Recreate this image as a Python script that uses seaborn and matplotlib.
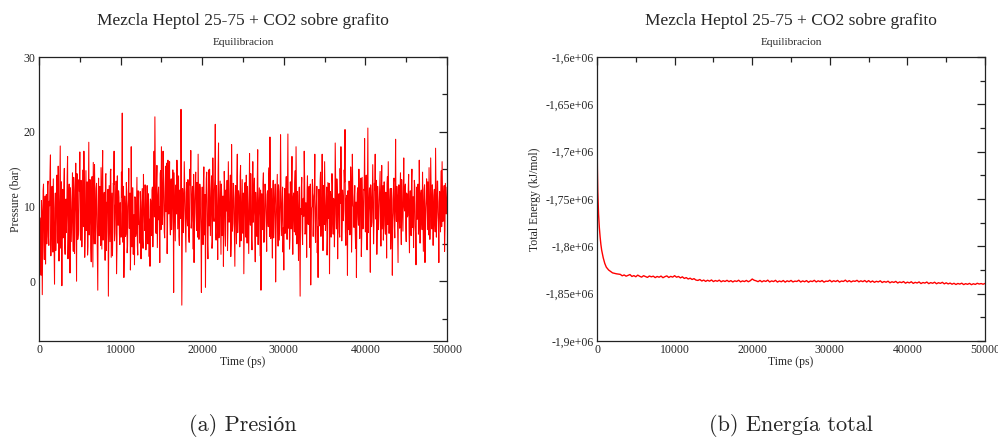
"""Equilibration plots (pressure and total energy) for the Heptol 25-75 + CO2 on graphite run."""

import matplotlib

matplotlib.use("Agg")
import matplotlib.pyplot as plt
import numpy as np
import seaborn as sns
from matplotlib.ticker import FuncFormatter, MultipleLocator

TITLE = "Mezcla Heptol 25-75 + CO2 sobre grafito"
SUBTITLE = "Equilibracion"
CAPTIONS = ["(a) Presión", "(b) Energía total"]

# pressure, frames at t = 0, 100, ..., 50000 ps
PRESSURE_DT_PS = 100
PRESSURE_BAR = [
    -2.7, 8.5, 3.1, 10.8, -1.8, 12.1, 5.4, 9.7, 2.3, 11.6,
    7.2, 13.4, 4.8, 10.1, 16.9, 6.3, 12.7, 3.9, 9.2, -0.4,
    11.8, 6.9, 14.2, 5.1, 10.4, 8.0, 18.1, 4.4, -0.6, 12.3,
    7.7, 15.1, 3.6, 11.0, 8.8, 16.7, 5.9, 13.0, 1.1, 10.6,
    7.4, 14.5, 4.0, 12.2, 9.1, 15.8, 0.0, 11.3, 6.2, 13.6,
    17.3, 5.5, 12.0, 8.3, 14.9, 17.4, 3.2, 10.9, 6.8, 13.3,
    4.7, 18.6, 7.9, 11.5, 2.6, 14.0, 1.9, 9.9, 15.6, 5.0,
    12.4, 8.6, -1.2, 13.8, 6.1, 10.2, 15.2, 4.3, 17.5, 7.0,
    11.9, 2.8, 14.4, 6.6, 9.4, -2.0, 12.8, 5.3, 15.0, 8.1,
    3.4, 13.1, 17.4, 6.4, 10.7, 1.0, 14.1, 7.5, 11.2, 4.9,
    9.0, 14.6, 22.5, 5.2, 0.5, 11.4, 6.0, 13.2, 3.8, 10.0,
    15.1, 7.1, 1.5, 18.0, 4.6, 12.5, 8.4, 2.2, 11.1, 6.5,
    13.9, 3.5, 9.6, 7.8, 12.0, 3.0, 10.3, 5.7, 14.3, 8.9,
    12.9, 4.2, 9.3, 6.7, 11.7, 3.3, 2.0, 10.8, 7.3, 12.6,
    9.5, 17.4, 22.0, 6.9, 13.5, 4.5, 11.6, 8.2, 2.5, 14.8,
    18.0, 7.6, 17.4, 10.5, 5.8, 15.4, 12.1, 3.7, 16.2, 9.0,
    16.0, 6.2, 13.7, 8.7, 14.9, -1.5, 11.2, 5.4, 12.9, 16.2,
    7.0, 14.1, 4.8, 10.6, 23.0, -3.2, 12.4, 6.5, 16.0, 9.8,
    3.9, 13.2, 7.4, 11.8, 5.2, 15.0, 17.5, 8.1, 12.7, 4.3,
    2.5, 10.9, 14.6, 6.8, 11.4, 17.0, 5.6, 13.0, 8.5, -1.5,
    12.6, 4.9, 15.3, 7.2, -0.8, 13.7, 9.3, 3.0, 14.9, 15.0,
    6.1, 11.8, 4.4, 16.5, 8.6, 12.3, 21.0, 5.5, 10.1, 2.9,
    18.5, 7.7, 13.4, 3.6, 11.0, 8.0, 2.0, 14.7, 6.3, 12.2,
    9.4, 4.1, 16.0, 7.9, 10.7, 3.3, 18.3, 6.7, 13.1, 9.9,
    2.0, 12.8, 5.0, 17.0, 8.3, 11.5, 4.6, 15.5, 7.1, 13.6,
    6.4, 1.0, 12.9, 8.8, 14.2, 5.1, 10.4, 3.7, 17.1, 7.5,
    11.3, 4.2, 16.0, 9.1, 13.8, 2.6, 10.0, 6.0, 17.6, 8.7,
    12.5, 3.4, -1.2, 11.7, 6.9, 14.5, 5.3, 13.0, 9.6, 4.0,
    12.1, 7.3, 15.2, 19.3, 5.7, 10.9, 3.1, 13.5, 8.0, 11.6,
    -0.1, 9.2, 14.3, 4.7, 12.0, 7.8, 19.6, 6.1, 10.6, 3.9,
    1.5, 12.4, 8.5, 14.0, 5.6, 19.7, 9.7, 4.3, 13.3, 7.0,
    16.7, 3.6, 11.8, 6.6, 14.8, 18.0, 5.0, 10.2, 2.8, 12.6,
    -2.0, 8.9, 13.9, 4.9, 11.1, 17.4, 6.3, 10.5, 3.2, 14.1,
    7.6, 12.7, 4.5, -0.5, 9.8, 13.6, 6.0, 11.4, 17.0, 5.2,
    10.7, 3.8, 0.5, 12.3, 7.4, 14.6, 8.2, 17.0, 4.1, 11.9,
    16.0, 6.8, 10.3, 3.5, 13.2, 8.4, 1.0, 12.0, 5.9, 14.4,
    7.7, 11.1, 4.6, 18.5, 9.0, 13.7, 3.0, 10.8, 6.5, 15.1,
    18.0, 5.4, 12.2, 8.1, 14.9, 20.3, 4.8, 11.5, 0.8, 9.5,
    13.4, 6.2, 15.3, 3.9, 17.0, 10.1, 7.2, 12.8, 4.4, 0.5,
    11.7, 8.6, 15.0, 5.7, 10.4, 3.3, 13.9, 7.0, 12.3, 19.1,
    6.6, 14.2, 4.2, 20.5, 9.2, 12.5, 1.2, 11.0, 7.9, 15.6,
    5.0, 13.1, 17.0, 8.3, 3.6, 12.7, 6.9, 10.6, 14.7, 4.7,
    15.5, 9.8, 5.5, 13.3, 7.5, 11.9, 3.1, 14.0, 16.0, 6.4,
    10.9, 4.3, 12.4, 0.8, 9.1, 13.8, 5.8, 19.0, 8.0, 11.3,
    2.5, 12.9, 7.1, 14.5, 4.9, 10.5, 6.7, 16.5, 9.4, 13.0,
    5.3, 11.6, 8.8, 14.3, 3.8, 12.1, 6.1, 15.0, 9.7, 4.5,
    13.5, 7.4, 2.2, 12.6, 10.0, 6.3, 16.2, 5.1, 11.8, 8.2,
    14.6, 4.0, 12.3, 2.5, 9.9, 13.7, 6.9, 10.8, 15.2, 5.6,
    16.5, 8.5, 12.9, 4.8, 11.2, 7.7, 17.8, 5.9, 13.4, 9.3,
    2.5, 12.0, 6.6, 14.8, 16.0, 8.0, 11.5, 4.0, 13.1, 9.0,
    12.6,
]
# in-between frames at t = 50, 150, ..., 49950 ps
PRESSURE_BAR_MID = [
    1.2, 6.8, 0.8, 9.4, 4.5, 13.0, 2.9, 11.4, 8.1, 5.0,
    12.8, 6.0, 10.7, 14.6, 3.4, 11.1, 7.5, 13.7, 5.2, 9.8,
    4.1, 12.6, 8.4, 15.4, 2.7, 11.9, 7.0, 13.3, 9.6, 5.8,
    12.9, 4.9, 10.2, 6.5, 14.1, 3.0, 11.6, 8.0, 12.5, 5.3,
    10.0, 6.7, 13.9, 3.7, 11.2, 7.8, 14.4, 5.6, 9.5, 12.0,
    6.9, 13.5, 4.6, 10.8, 7.3, 12.2, 5.7, 14.8, 9.0, 3.5,
    11.0, 6.2, 13.6, 4.4, 10.3, 8.2, 15.9, 5.0, 11.7, 7.6,
    13.1, 3.9, 9.7, 6.1, 12.7, 4.8, 10.1, 13.9, 5.5, 11.4,
    7.9, 14.2, 4.1, 10.6, 12.3, 6.0, 9.1, 14.7, 3.2, 11.8,
    7.2, 12.9, 5.4, 10.0, 13.4, 4.2, 8.7, 12.1, 6.3, 10.5,
    5.9, 11.2, 7.4, 12.7, 3.9, 9.8, 6.3, 12.0, 4.7, 10.9,
    7.1, 11.8, 5.5, 9.4, 12.5, 3.6, 8.9, 11.3, 6.0, 10.2,
    4.8, 12.1, 7.6, 5.1, 10.6, 8.0, 12.4, 4.4, 9.1, 6.8,
    11.5, 7.2, 12.8, 5.0, 9.9, 8.3, 11.0, 6.1, 12.2, 4.6,
    11.4, 8.6, 13.7, 6.4, 15.5, 7.9, 12.6, 10.0, 14.4, 6.9,
    12.4, 8.9, 14.7, 6.6, 12.0, 9.3, 15.8, 7.5, 11.6, 13.8,
    8.2, 12.9, 6.9, 11.3, 9.6, 14.5, 7.8, 12.6, 9.0, 13.4,
    10.7, 6.0, 12.2, 8.4, 14.0, 5.6, 11.0, 9.7, 13.1, 7.3,
    11.9, 8.6, 13.6, 6.2, 10.4, 12.8, 7.1, 11.5, 9.2, 14.3,
    7.7, 12.3, 9.1, 13.2, 5.9, 11.1, 8.8, 12.5, 6.4, 10.3,
    8.0, 13.3, 6.2, 11.6, 9.7, 14.6, 4.8, 10.9, 7.4, 12.4,
    9.1, 14.1, 5.3, 11.9, 8.0, 13.7, 6.6, 12.8, 9.4, 15.0,
    5.8, 10.5, 7.9, 13.0, 6.1, 11.4, 9.0, 12.6, 4.7, 10.2,
    13.5, 6.9, 11.7, 8.5, 14.2, 5.1, 10.8, 7.7, 12.9, 6.0,
    11.1, 8.9, 13.8, 6.5, 12.1, 9.6, 14.0, 5.4, 10.6, 8.2,
    11.8, 7.0, 13.2, 5.9, 10.3, 12.7, 6.8, 11.1, 9.2, 14.4,
    5.6, 10.7, 7.9, 12.5, 6.3, 11.9, 8.8, 13.6, 4.9, 10.4,
    7.6, 12.2, 6.6, 10.0, 13.1, 5.2, 9.6, 12.0, 7.1, 11.6,
    8.4, 13.8, 6.0, 10.9, 12.4, 7.5, 11.3, 5.8, 9.9, 13.0,
    6.7, 11.5, 8.1, 12.9, 5.5, 10.2, 13.3, 8.6, 12.6, 7.2,
    10.1, 6.4, 12.3, 9.0, 13.5, 7.1, 11.7, 5.7, 10.8, 12.9,
    7.8, 11.2, 8.5, 13.2, 6.2, 10.6, 12.0, 7.4, 11.4, 5.3,
    9.7, 12.5, 7.0, 11.0, 8.7, 13.9, 6.5, 10.3, 12.2, 7.9,
    11.6, 6.8, 13.0, 5.9, 10.0, 12.4, 8.2, 11.8, 6.1, 9.5,
    12.7, 7.3, 10.9, 8.9, 13.4, 6.0, 11.3, 9.8, 12.8, 7.6,
    11.0, 8.3, 12.6, 5.8, 10.5, 13.1, 7.4, 11.5, 9.3, 12.9,
    6.3, 10.8, 8.1, 13.6, 7.0, 12.0, 9.1, 11.7, 5.9, 10.4,
    12.7, 7.7, 11.2, 9.5, 13.3, 6.6, 10.9, 8.4, 12.1, 6.9,
    11.6, 8.8, 13.0, 7.2, 12.4, 9.9, 11.3, 6.7, 10.6, 8.0,
    12.5, 7.5, 11.9, 9.2, 13.8, 6.1, 10.7, 8.9, 12.2, 10.0,
    12.0, 8.1, 13.4, 6.5, 11.1, 9.4, 12.9, 7.3, 11.6, 10.2,
    7.8, 12.2, 9.6, 13.5, 6.7, 10.8, 8.5, 12.6, 9.0, 11.4,
    7.0, 12.8, 8.2, 11.9, 6.3, 10.5, 13.0, 7.6, 11.2, 9.3,
    12.4, 6.9, 11.0, 8.0, 13.2, 7.4, 10.9, 9.8, 12.7, 6.6,
    11.5, 8.4, 12.1, 7.9, 13.6, 8.8, 11.3, 10.1, 12.5, 7.1,
    11.8, 8.6, 12.4, 6.8, 10.7, 9.5, 13.1, 7.2, 11.3, 8.9,
    12.6, 6.4, 10.2, 8.3, 13.0, 7.7, 11.6, 9.4, 12.2, 6.9,
    10.8, 8.7, 12.9, 7.4, 11.1, 9.9, 13.3, 6.2, 10.4, 8.1,
    12.7, 7.0, 11.5, 9.1, 12.3, 6.6, 11.0, 8.5, 13.4, 7.9,
    10.6, 9.6, 12.1, 7.3, 11.7, 8.8, 12.8, 6.9, 10.9, 9.7,
]

# total energy in units of 1e6 kJ/mol; dense sampling over the initial relaxation
ENERGY_TIME_EARLY = [0, 25, 50, 100, 150, 200, 300, 400, 500, 600, 800, 1000, 1200, 1500, 2000, 2500]
ENERGY_EARLY = [-1.6726, -1.700, -1.718, -1.742, -1.756, -1.766, -1.780, -1.790, -1.798, -1.804,
                -1.812, -1.818, -1.822, -1.825, -1.828, -1.829]
ENERGY_DT_PS = 250  # from 3000 ps on
ENERGY_LATE = [
    -1.8296, -1.8311, -1.8302, -1.8315, -1.8306, -1.8298, -1.8318, -1.8309, -1.8321, -1.8304,
    -1.8316, -1.8325, -1.8310, -1.8319, -1.8328, -1.8313, -1.8322, -1.8315, -1.8330, -1.8318,
    -1.8326, -1.8314, -1.8331, -1.8320, -1.8312, -1.8329, -1.8317, -1.8325,
    -1.8310, -1.8326, -1.8318, -1.8333, -1.8322, -1.8339, -1.8330, -1.8345, -1.8336, -1.8350,
    -1.8341, -1.8356,
    -1.8360, -1.8350, -1.8366, -1.8356, -1.8370, -1.8358, -1.8368, -1.8355, -1.8372, -1.8361,
    -1.8369, -1.8357, -1.8374, -1.8363, -1.8371, -1.8359, -1.8373, -1.8362, -1.8376, -1.8364,
    -1.8371, -1.8358, -1.8375, -1.8365, -1.8372, -1.8360, -1.8374, -1.8363,
    -1.8345, -1.8358, -1.8364, -1.8373, -1.8360, -1.8375, -1.8363, -1.8371, -1.8357, -1.8376,
    -1.8365, -1.8372, -1.8359, -1.8377, -1.8366, -1.8374, -1.8361, -1.8378, -1.8364, -1.8373,
    -1.8360, -1.8376, -1.8367, -1.8371, -1.8358, -1.8377, -1.8365, -1.8374, -1.8362, -1.8379,
    -1.8366, -1.8372, -1.8359, -1.8376, -1.8364, -1.8373, -1.8361, -1.8378, -1.8367, -1.8370,
    -1.8358, -1.8375, -1.8363, -1.8372, -1.8360, -1.8377, -1.8366, -1.8371, -1.8357, -1.8374,
    -1.8362, -1.8376, -1.8365, -1.8370, -1.8359, -1.8375, -1.8364, -1.8373, -1.8361, -1.8377,
    -1.8362, -1.8378, -1.8366, -1.8380, -1.8369, -1.8376, -1.8364, -1.8382, -1.8371, -1.8379,
    -1.8368, -1.8385, -1.8374, -1.8381, -1.8370, -1.8387, -1.8376, -1.8383, -1.8372, -1.8389,
    -1.8378, -1.8386, -1.8374, -1.8391, -1.8380, -1.8387, -1.8376, -1.8393, -1.8382, -1.8388,
    -1.8377, -1.8394, -1.8383, -1.8390, -1.8379, -1.8395, -1.8384, -1.8391, -1.8380, -1.8396,
    -1.8385, -1.8397, -1.8388, -1.8400, -1.8390, -1.8403, -1.8392, -1.8399, -1.8389, -1.8404,
    -1.8394, -1.8401, -1.8391, -1.8405, -1.8395, -1.8402, -1.8390, -1.8398, -1.8393, -1.8400,
    -1.8392,
]

RED = "#ff0000"
AXIS_DARK = "#222222"
SERIF = ["Liberation Serif", "DejaVu Serif"]
CAPTION_FONT = ["cmr10", "Liberation Serif", "DejaVu Serif"]


def _grace_axes(ax, xmajor, ymajor):
    for s in ax.spines.values():
        s.set_visible(True)
        s.set_color(AXIS_DARK)
        s.set_linewidth(0.9)
    ax.xaxis.set_major_locator(MultipleLocator(xmajor))
    ax.xaxis.set_minor_locator(MultipleLocator(xmajor / 2))
    ax.yaxis.set_major_locator(MultipleLocator(ymajor))
    ax.yaxis.set_minor_locator(MultipleLocator(ymajor / 2))
    ax.tick_params(which="both", direction="in", top=True, right=True, color=AXIS_DARK, width=0.9)
    ax.tick_params(which="major", length=6, labelsize=8.5, pad=2.5)
    ax.tick_params(which="minor", length=3.5)
    ax.grid(False)


sns.set_style("white")
plt.rcParams["font.family"] = SERIF

fig = plt.figure(figsize=(9.98, 4.47), dpi=100)
ax_p = fig.add_axes([0.0391, 0.2371, 0.4088, 0.6353])
ax_e = fig.add_axes([0.5982, 0.2371, 0.3888, 0.6353])

# merge the two frame sets into one time-ordered trace
p_time = np.concatenate([np.arange(len(PRESSURE_BAR)) * PRESSURE_DT_PS,
                         np.arange(len(PRESSURE_BAR_MID)) * PRESSURE_DT_PS + PRESSURE_DT_PS // 2])
p_vals = np.concatenate([PRESSURE_BAR, PRESSURE_BAR_MID])
order = np.argsort(p_time)
sns.lineplot(x=p_time[order], y=p_vals[order], ax=ax_p, color=RED, lw=0.75, sort=False)
ax_p.set_xlim(0, 50000)
ax_p.set_ylim(-8, 30)
_grace_axes(ax_p, 10000, 10)
ax_p.set_xlabel("Time (ps)", fontsize=8.5, labelpad=0)
ax_p.set_ylabel("Pressure (bar)", fontsize=8.5, labelpad=2)

e_time = ENERGY_TIME_EARLY + [3000 + i * ENERGY_DT_PS for i in range(len(ENERGY_LATE))]
e_vals = np.array(ENERGY_EARLY + ENERGY_LATE) * 1e6
sns.lineplot(x=e_time, y=e_vals, ax=ax_e, color=RED, lw=1.0)
ax_e.set_xlim(0, 50000)
ax_e.set_ylim(-1.9e6, -1.6e6)
_grace_axes(ax_e, 10000, 0.05e6)
ax_e.yaxis.set_major_formatter(FuncFormatter(lambda v, _: f"{v:g}".replace(".", ",")))
ax_e.set_xlabel("Time (ps)", fontsize=8.5, labelpad=0)
ax_e.set_ylabel("Total Energy (kJ/mol)", fontsize=8.5, labelpad=3)

for ax, caption in zip((ax_p, ax_e), CAPTIONS):
    pos = ax.get_position()
    xc = (pos.x0 + pos.x1) / 2
    fig.text(xc, 0.953, TITLE, ha="center", va="center", fontsize=12.5)
    fig.text(xc, 0.904, SUBTITLE, ha="center", va="center", fontsize=8.2)
    fig.text(xc, 0.047, caption, ha="center", va="center", fontsize=16, family=CAPTION_FONT)

fig.savefig("out.png", dpi=100, facecolor="white")
